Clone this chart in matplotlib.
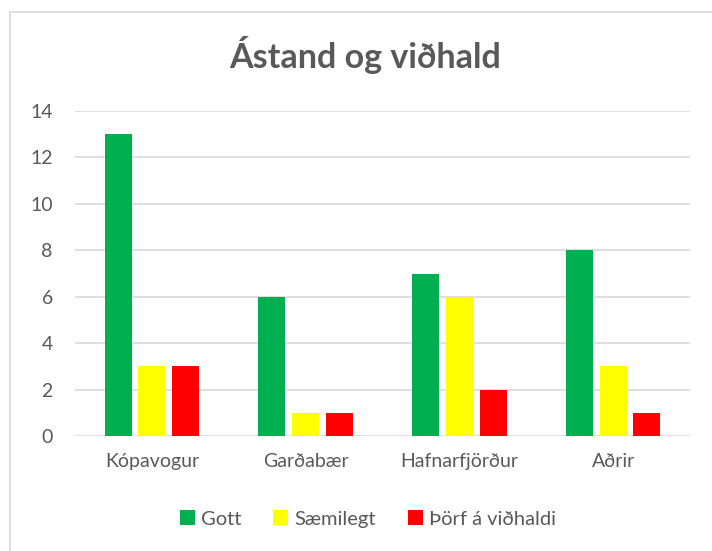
import numpy as np
import matplotlib.pyplot as plt
from matplotlib.patches import Rectangle

# --- data ---
categories = ["Kópavogur", "Garðabær", "Hafnarfjörður", "Aðrir"]
gott = [13, 6, 7, 8]
saemilegt = [3, 1, 6, 3]
thorf = [3, 1, 2, 1]
series_names = ["Gott", "Sæmilegt", "Þörf á viðhaldi"]
colors = ["#00B050", "#FFFF00", "#FF0000"]
yticks = [0, 2, 4, 6, 8, 10, 12, 14]

plt.rcParams['font.family'] = ['Lato', 'DejaVu Sans']
TXT = "#595959"

W, H = 712, 551
fig = plt.figure(figsize=(W / 100, H / 100), dpi=100)

# outer chart frame (only top/left visible in the crop)
fig.patches.append(Rectangle((10 / W, -0.1), 1.2, 1.1 - 12 / H, transform=fig.transFigure,
                             fill=False, edgecolor="#D9D9D9", lw=1.2))

ax = fig.add_axes([75 / W, (H - 436) / H, 615 / W, 325 / H])

x = np.arange(len(categories))
bw = 0.175
step = 0.22
for i, (vals, name, c) in enumerate(zip([gott, saemilegt, thorf], series_names, colors)):
    ax.bar(x + (i - 1) * step, vals, bw, color=c, label=name, zorder=3)

ax.set_xlim(-0.5, len(categories) - 0.5)
ax.set_ylim(0, 14)
ax.set_yticks(yticks)
ax.set_yticklabels([str(v) for v in yticks])
ax.set_xticks(x)
ax.set_xticklabels(categories)
ax.grid(axis="y", color="#D9D9D9", lw=1.2, zorder=0)
for s in ax.spines.values():
    s.set_visible(False)
ax.tick_params(axis="both", length=0, labelsize=14, colors=TXT)
ax.tick_params(axis="y", pad=16)
ax.tick_params(axis="x", pad=12)

fig.text(365 / W, 1 - 55 / H, "Ástand og viðhald", ha="center", va="center",
         fontsize=24.5, fontweight="bold", color=TXT)

fig.legend(loc="center", bbox_to_anchor=(368 / W, 1 - 519 / H), ncol=3, frameon=False,
           fontsize=14.5, labelcolor=TXT, handlelength=0.75, handleheight=0.75,
           handletextpad=0.3, columnspacing=1.6)

fig.savefig("out.png", dpi=100)
